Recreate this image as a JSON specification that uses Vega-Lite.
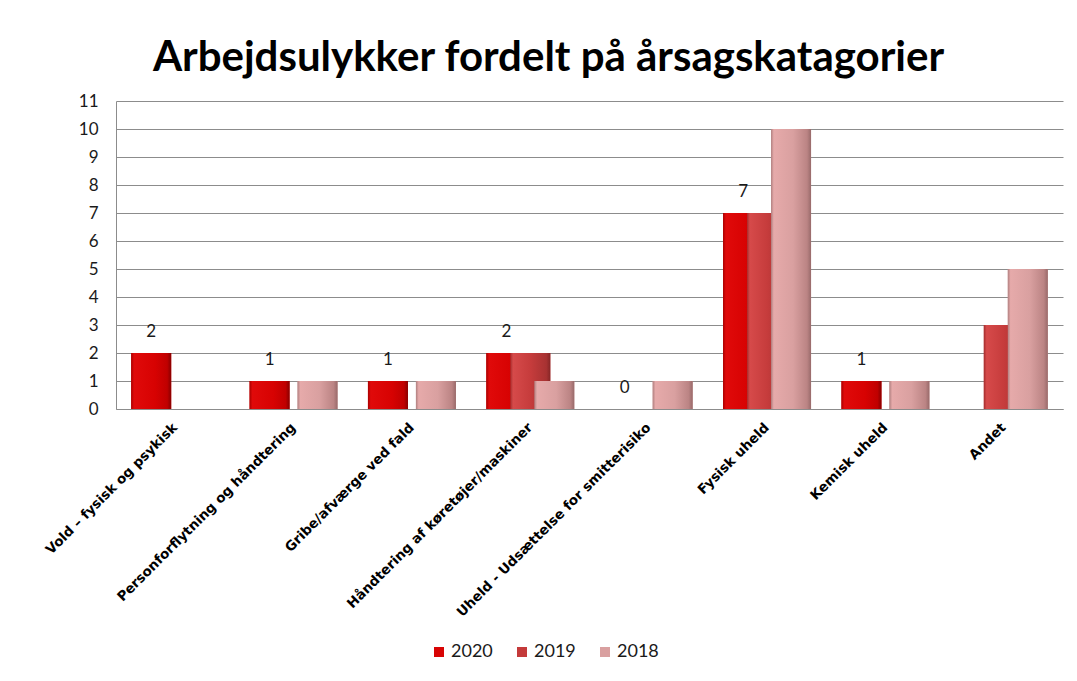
{
  "$schema": "https://vega.github.io/schema/vega-lite/v6.json",
  "width": 947,
  "height": 308,
  "autosize": {"type": "none"},
  "padding": {"left": 116, "top": 101, "right": 14, "bottom": 272},
  "background": "white",
  "title": {
    "text": "Arbejdsulykker fordelt på årsagskatagorier",
    "font": "Lato",
    "fontSize": 42,
    "fontWeight": "bold",
    "color": "black",
    "anchor": "middle",
    "dx": -41,
    "offset": 12
  },
  "config": {
    "view": {"stroke": null},
    "axis": {"labelFont": "Lato", "labelColor": "#1a1a1a"}
  },
  "data": {
    "values": [
      {"category": "Vold – fysisk og psykisk", "year": "2020", "count": 2},
      {"category": "Personforflytning og håndtering", "year": "2020", "count": 1},
      {"category": "Gribe/afværge  ved fald", "year": "2020", "count": 1},
      {"category": "Håndtering af køretøjer/maskiner", "year": "2020", "count": 2},
      {"category": "Uheld - Udsættelse for smitterisiko", "year": "2020", "count": 0},
      {"category": "Fysisk uheld", "year": "2020", "count": 7},
      {"category": "Kemisk uheld", "year": "2020", "count": 1},
      {"category": "Håndtering af køretøjer/maskiner", "year": "2019", "count": 2},
      {"category": "Fysisk uheld", "year": "2019", "count": 7},
      {"category": "Andet", "year": "2019", "count": 3},
      {"category": "Personforflytning og håndtering", "year": "2018", "count": 1},
      {"category": "Gribe/afværge  ved fald", "year": "2018", "count": 1},
      {"category": "Håndtering af køretøjer/maskiner", "year": "2018", "count": 1},
      {"category": "Uheld - Udsættelse for smitterisiko", "year": "2018", "count": 1},
      {"category": "Fysisk uheld", "year": "2018", "count": 10},
      {"category": "Kemisk uheld", "year": "2018", "count": 1},
      {"category": "Andet", "year": "2018", "count": 5}
    ]
  },
  "encoding": {
    "x": {
      "field": "category",
      "type": "nominal",
      "sort": ["Vold – fysisk og psykisk", "Personforflytning og håndtering", "Gribe/afværge  ved fald", "Håndtering af køretøjer/maskiner", "Uheld - Udsættelse for smitterisiko", "Fysisk uheld", "Kemisk uheld", "Andet"],
      "scale": {"paddingInner": 0.392, "paddingOuter": 0.196},
      "axis": {
        "title": null,
        "labelAngle": -45,
        "labelFont": "DejaVu Sans",
        "labelFontSize": 13.5,
        "labelFontWeight": "bold",
        "labelColor": "black",
        "labelAlign": "right",
        "labelBaseline": "middle",
        "labelPadding": 16,
        "ticks": false,
        "domainColor": "#8c8c8c",
        "labelLimit": 400
      }
    },
    "xOffset": {
      "field": "year",
      "type": "nominal",
      "sort": ["2020", "2019", "2018"],
      "scale": {"paddingInner": 0, "paddingOuter": 0}
    },
    "y": {
      "field": "count",
      "type": "quantitative",
      "scale": {"domain": [0, 11], "nice": false},
      "axis": {
        "title": null,
        "values": [0, 1, 2, 3, 4, 5, 6, 7, 8, 9, 10, 11],
        "labelFontSize": 17,
        "labelPadding": 18,
        "ticks": false,
        "domainColor": "#8c8c8c",
        "gridColor": "#8c8c8c",
        "grid": true
      }
    }
  },
  "layer": [
    {
      "mark": {"type": "bar", "width": 40},
      "encoding": {
        "color": {
          "field": "year",
          "type": "nominal",
          "sort": ["2020", "2019", "2018"],
          "scale": {"domain": ["2020", "2019", "2018"], "range": ["#d80404", "#c43a3a", "#d9a0a0"]},
          "legend": {
            "title": null,
            "orient": "none",
            "direction": "horizontal",
            "legendX": 314,
            "legendY": 542,
            "symbolType": "square",
            "symbolSize": 100,
            "symbolStrokeWidth": 0,
            "labelFont": "Lato",
            "labelFontSize": 18,
            "labelColor": "#1a1a1a",
            "columnPadding": 20,
            "labelOffset": 3,
            "padding": 0
          }
        }
      }
    },
    {
      "transform": [{"filter": "datum.year === '2020'"}],
      "mark": {
        "type": "bar",
        "width": 40,
        "fill": {
          "gradient": "linear", "x1": 0, "y1": 0, "x2": 1, "y2": 0,
          "stops": [
            {"offset": 0, "color": "#a80000"},
            {"offset": 0.07, "color": "#e00a0a"},
            {"offset": 0.6, "color": "#d70202"},
            {"offset": 0.9, "color": "#c00000"},
            {"offset": 1, "color": "#880000"}
          ]
        }
      },
      "encoding": {}
    },
    {
      "transform": [{"filter": "datum.year === '2019'"}],
      "mark": {
        "type": "bar",
        "width": 40,
        "fill": {
          "gradient": "linear", "x1": 0, "y1": 0, "x2": 1, "y2": 0,
          "stops": [
            {"offset": 0, "color": "#a42e2e"},
            {"offset": 0.07, "color": "#d64a4a"},
            {"offset": 0.5, "color": "#c63c3c"},
            {"offset": 0.9, "color": "#a83232"},
            {"offset": 1, "color": "#862626"}
          ]
        }
      },
      "encoding": {}
    },
    {
      "transform": [{"filter": "datum.year === '2018'"}],
      "mark": {
        "type": "bar",
        "width": 40,
        "fill": {
          "gradient": "linear", "x1": 0, "y1": 0, "x2": 1, "y2": 0,
          "stops": [
            {"offset": 0, "color": "#b08080"},
            {"offset": 0.07, "color": "#e6aaaa"},
            {"offset": 0.55, "color": "#d9a0a0"},
            {"offset": 0.9, "color": "#bb8484"},
            {"offset": 1, "color": "#986a6a"}
          ]
        }
      },
      "encoding": {}
    },
    {
      "transform": [{"filter": "datum.year === '2020'"}],
      "mark": {"type": "text", "baseline": "bottom", "dy": -12, "font": "Lato", "fontSize": 17, "color": "#1a1a1a"},
      "encoding": {
        "text": {"field": "count", "type": "quantitative"}
      }
    }
  ]
}
